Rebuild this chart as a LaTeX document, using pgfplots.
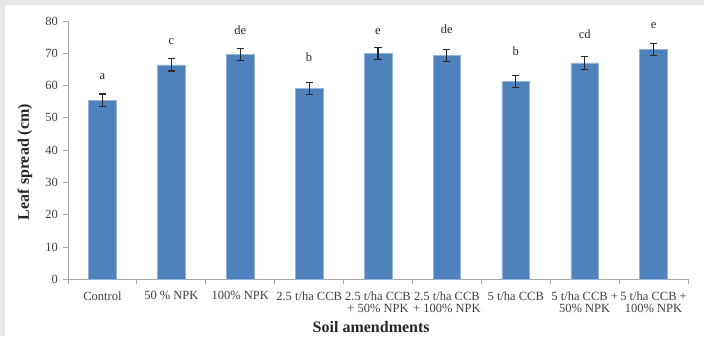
\documentclass[border=0pt]{standalone}
\usepackage{fontspec}
\setmainfont{Liberation Serif}
\usepackage{pgfplots}
\pgfplotsset{compat=1.18}
\definecolor{barblue}{HTML}{4F81BD}
\definecolor{framegrey}{HTML}{E6E7E8}
\definecolor{axgrey}{HTML}{A6A6A6}
\definecolor{txt}{HTML}{404040}
\pgfplotstableread{
x y e
0 55.5 1.9
1 66.4 1.9
2 69.6 1.85
3 59.1 1.9
4 70.0 1.85
5 69.3 1.9
6 61.3 1.9
7 67.0 1.9
8 71.2 1.9
}\datatable
\begin{document}
\begin{tikzpicture}[x=1bp,y=1bp]
\useasboundingbox (0,0) rectangle (704,336);
\fill[framegrey] (0,0) rectangle (704,336);
\fill[white] (5,0) rectangle (704,331);
\begin{axis}[
  at={(68bp,56.7bp)}, anchor=south west,
  scale only axis, width=620bp, height=258.3bp,
  xmin=-0.5, xmax=8.5, ymin=0, ymax=80,
  axis x line*=bottom, axis y line*=left,
  axis line style={axgrey, line width=0.8bp},
  tick align=outside,
  ytick={0,10,...,80},
  xtick={0,...,8},
  xticklabels={Control,50 \% NPK,100\% NPK,2.5 t/ha CCB,{2.5 t/ha CCB\\+ 50\% NPK},{2.5 t/ha CCB\\+ 100\% NPK},5 t/ha CCB,{5 t/ha CCB +\\50\% NPK},{5 t/ha CCB +\\100\% NPK}},
  minor xtick={-0.5,0.5,...,8.5},
  major x tick style={draw=none},
  tick style={axgrey, line width=0.8bp},
  major tick length=4.7bp, minor tick length=4.7bp,
  /pgf/number format/assume math mode=true,
  yticklabel style={font=\fontsize{12.5bp}{12.5bp}\selectfont, text=txt, xshift=-2bp},
  xticklabel style={font=\fontsize{12.5bp}{12bp}\selectfont, text=txt, align=center, yshift=-4bp},
  ylabel={Leaf spread (cm)},
  xlabel={Soil amendments},
  ylabel style={font=\bfseries\fontsize{16bp}{16bp}\selectfont, text=black!85, at={(axis description cs:-0.0694,0.454)}, anchor=center, rotate=0},
  xlabel style={font=\bfseries\fontsize{16bp}{16bp}\selectfont, text=black!85, at={(axis description cs:0.489,-0.185)}, anchor=center},
  clip=false,
]
\addplot[ybar, bar width=27.7bp, fill=barblue, draw=barblue!60!white, line width=0.6bp,
  error bars/.cd, y dir=both, y explicit,
  error bar style={black!85, line width=1.1bp},
  error mark options={rotate=90, mark size=3.6bp, black!85, line width=1.1bp}]
  table[x=x, y=y, y error=e]{\datatable};
\begin{scope}[every node/.style={anchor=base, font=\fontsize{12.5bp}{12.5bp}\selectfont, text=black!85}]
\node at (axis cs:0,62.0) {a};
\node at (axis cs:1,72.6) {c};
\node at (axis cs:2,75.7) {de};
\node at (axis cs:3,67.6) {b};
\node at (axis cs:4,75.9) {e};
\node at (axis cs:5,76.2) {de};
\node at (axis cs:6,69.3) {b};
\node at (axis cs:7,74.7) {cd};
\node at (axis cs:8,77.7) {e};
\end{scope}
\end{axis}
\end{tikzpicture}
\end{document}
